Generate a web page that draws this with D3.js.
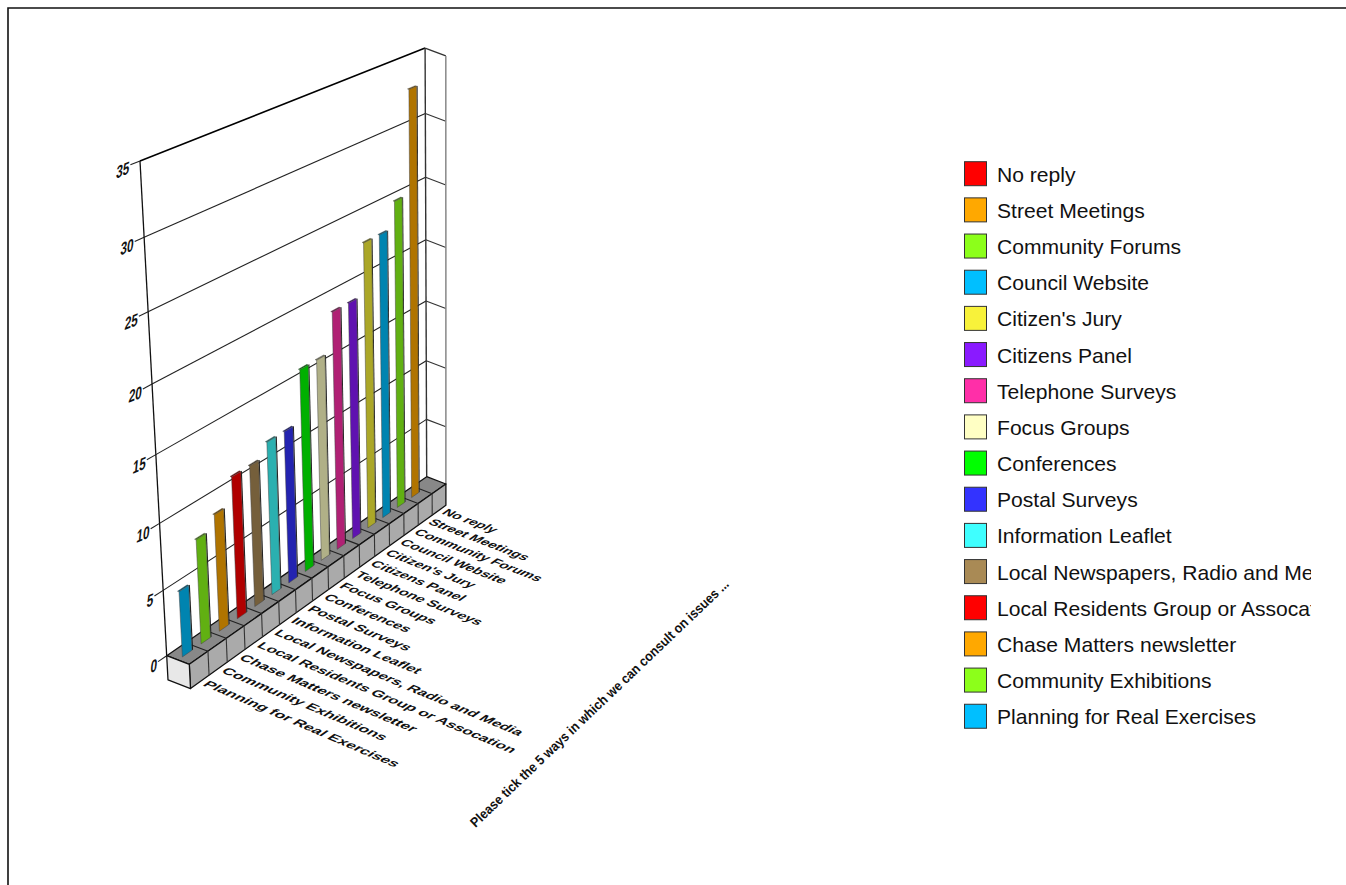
<!DOCTYPE html>
<html>
<head>
<meta charset="utf-8">
<script src="https://cdn.jsdelivr.net/npm/d3@7"></script>
<style>
html,body{margin:0;padding:0;background:#fff;overflow:hidden}
svg{display:block}
text{font-family:"Liberation Sans",Arial,sans-serif;fill:#111}
</style>
</head>
<body>
<svg id="chart" width="1346" height="885"></svg>
<script>
// legend order, the last one stands at the front of the floor
const categories = ["No reply","Street Meetings","Community Forums","Council Website","Citizen's Jury","Citizens Panel","Telephone Surveys","Focus Groups","Conferences","Postal Surveys","Information Leaflet","Local Newspapers, Radio and Media","Local Residents Group or Assocation","Chase Matters newsletter","Community Exhibitions","Planning for Real Exercises"];
const values = [0,33,25,23,23,19,19,16,16,12,12,11,11,9,8,5];
const colors = ["#ff0000","#ffa800","#8cff1a","#00bfff","#f8f23a","#8a1aff","#ff2fa8","#ffffc4","#00ff00","#3333ff","#3fffff","#a98a55","#ff0000","#ffa800","#8cff1a","#00bfff"];
const yTicks = [0,5,10,15,20,25,30,35];
const axisTitle = "Please tick the 5 ways in which we can consult on issues ...";

const svg = d3.select("#chart");

// frame
svg.append("path").attr("d","M1346,8H8V885").attr("fill","none").attr("stroke","#111").attr("stroke-width",1.6);

// perspective box: X along the categories, Y up the values, Z towards the viewer
const O=[166.7,655.7], XE=[426.7,476.7], YE=[140,161], ZE=[189.3,664.3];
const px=0.177, py=-0.087, pz=0;
function project(X,Y,Z){
  const w = 1+px*X+py*Y+pz*Z;
  return [0,1].map(k=>(O[k]+X*(XE[k]*(1+px)-O[k])+Y*(YE[k]*(1+py)-O[k])+Z*(ZE[k]*(1+pz)-O[k]))/w);
}
const n = categories.length;
const xScale = d3.scaleLinear().domain([0,n]).range([0,1]);
const yScale = d3.scaleLinear().domain([0,35]).range([0,1]);
const floorY = -0.054;

const line = d3.line();
function poly(g,pts,fill,stroke,sw){
  return g.append("path").attr("d",line(pts)+"Z").attr("fill",fill)
    .attr("stroke",stroke||"none").attr("stroke-width",sw||1).attr("stroke-linejoin","round");
}
function seg(g,a,b,stroke,sw){
  return g.append("path").attr("d",line([a,b])).attr("fill","none").attr("stroke",stroke).attr("stroke-width",sw||1);
}

// walls
const walls = svg.append("g");
yTicks.forEach(t=>{
  const v = yScale(t);
  if(t>0 && t<35) seg(walls,project(0,v,0),project(1,v,0),"#222",1.1);
  if(t>0) seg(walls,project(1,v,0),project(1,v,1),"#333",t==35?1.4:1.1);
  seg(walls,project(-0.028,v,0),project(0,v,0),"#222",1.1);
});
seg(walls,project(0,1,0),project(1,1,0),"#000",1.6);
seg(walls,project(0,0,0),project(0,1,0),"#111",1.3);
seg(walls,project(1,0,0),project(1,1,0),"#333",1.4);
seg(walls,project(1,0,1),project(1,1,1),"#888",1.5);

// y labels: turned and leaning like the wall
yTicks.forEach(t=>{
  const p = project(-0.033,yScale(t),0);
  const ang = -22*Math.PI/180;
  svg.append("text")
    .attr("transform",`matrix(${Math.cos(ang)*0.7},${Math.sin(ang)*0.7},-0.1,0.99,${p[0]},${p[1]+8})`)
    .attr("text-anchor","end").attr("font-size",18).attr("font-weight","bold").text(t);
});

// floor slab
const floor = svg.append("g");
poly(floor,[project(0,0,0),project(1,0,0),project(1,0,1),project(0,0,1)],"#888888","#111",1.3);
poly(floor,[project(0,0,1),project(1,0,1),project(1,floorY,1),project(0,floorY,1)],"#aaaaaa","#111",1.3);
poly(floor,[project(0,0,0),project(0,0,1),project(0,floorY,1),project(0,floorY,0)],"#e8e8e8","#111",1.3);
d3.range(1,n).forEach(i=>{
  const X = xScale(i);
  seg(floor,project(X,0,0),project(X,0,1),"#222",1.1);
  seg(floor,project(X,0,1),project(X,floorY,1),"#333",1.1);
});

// bars, back ones first
const barZ = 0.5, barL = 0.23, barR = 0.74;
function shade(c){
  const q = d3.rgb(c);
  return d3.rgb(q.r*0.69,q.g*0.69,q.b*0.69).formatHex();
}
const bars = svg.append("g");
categories.forEach((c,idx)=>{
  if(values[idx]<=0) return;
  const i = n-1-idx, v = yScale(values[idx]);
  const xl = xScale(i+barL), xr = xScale(i+barR), xs = xScale(i+barR+0.06);
  const col = shade(colors[idx]);
  poly(bars,[project(xl,v,barZ),project(xr,v,barZ),project(xr,v,barZ-0.07),project(xl,v,barZ-0.07)],d3.rgb(col).darker(1.2),"#555",0.4);
  poly(bars,[project(xr,0,barZ),project(xs,0,barZ),project(xs,v,barZ),project(xr,v,barZ)],"#1c1c1c");
  poly(bars,[project(xl,0,barZ),project(xr,0,barZ),project(xr,v,barZ),project(xl,v,barZ)],col,"#444",0.5);
});

// category labels lie on the floor plane, smaller further back
categories.forEach((c,idx)=>{
  const i = n-1-idx, X = xScale(i+0.5);
  const a = project(X,floorY,1.1), b = project(X,floorY,2.1), d = project(X-0.05,floorY,1.1);
  const ang = Math.atan2(b[1]-a[1],b[0]-a[0])+(1-X)*2.4*Math.PI/180;
  const vx=d[0]-a[0], vy=d[1]-a[1], vl=Math.hypot(vx,vy);
  const sx = (1.39-0.19*X)*0.92;
  svg.append("text")
    .attr("transform",`matrix(${Math.cos(ang)*sx},${Math.sin(ang)*sx},${vx/vl},${vy/vl},${a[0]},${a[1]+2.5})`)
    .attr("font-size",12.5).attr("font-weight","bold").text(c);
});

// axis title
svg.append("text")
  .attr("transform","translate(475.5,828) rotate(-43.7) scale(0.917,1)")
  .attr("font-size",13.6).attr("font-weight","bold").text(axisTitle);

// legend
const legendY = d3.scaleLinear().domain([0,1]).range([161.7,197.87]);
svg.append("clipPath").attr("id","legendClip").append("rect")
  .attr("x",950).attr("y",150).attr("width",361).attr("height",600);
const legend = svg.append("g");
categories.forEach((c,idx)=>{
  const y = legendY(idx);
  legend.append("rect").attr("x",964.5).attr("y",y).attr("width",22).attr("height",24)
    .attr("fill",colors[idx]).attr("stroke","#333").attr("stroke-width",1);
  legend.append("text").attr("x",997).attr("y",y+20).attr("font-size",21.1)
    .attr("clip-path","url(#legendClip)").text(c);
});
</script>
</body>
</html>
